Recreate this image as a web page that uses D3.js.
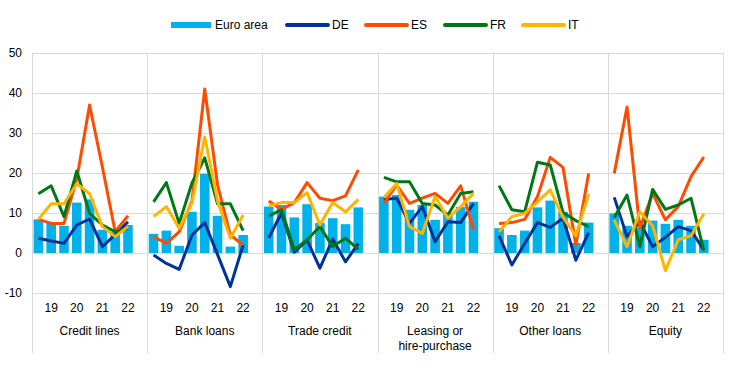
<!DOCTYPE html>
<html>
<head>
<meta charset="utf-8">
<script src="https://cdn.jsdelivr.net/npm/d3@7"></script>
<style>
  body { margin: 0; background: #fff; }
  svg text { font-family: Arial, "Liberation Sans", sans-serif; font-size: 12px; fill: #000; }
</style>
</head>
<body>
<svg id="chart"></svg>
<script>
// survey rounds per instrument, year ticks on every second round
const periods = ["18H2", "19H1", "19H2", "20H1", "20H2", "21H1", "21H2", "22H1"];
const tickLabels = ["", "19", "", "20", "", "21", "", "22"];
const instruments = ["Credit lines", "Bank loans", "Trade credit", "Leasing or hire-purchase", "Other loans", "Equity"];
const instrumentLines = [["Credit lines"], ["Bank loans"], ["Trade credit"], ["Leasing or", "hire-purchase"], ["Other loans"], ["Equity"]];
const yTicks = [-10, 0, 10, 20, 30, 40, 50];

// one row per instrument
const euroArea = [
    [8.4, 7.7, 6.8, 12.6, 13.4, 5.8, 5.3, 7.0],
    [4.8, 5.6, 1.8, 10.3, 19.8, 9.3, 1.6, 4.5],
    [11.6, 12.0, 8.9, 12.2, 7.5, 8.7, 7.2, 11.4],
    [14.1, 14.5, 10.8, 12.0, 8.3, 10.0, 11.5, 12.8],
    [6.2, 4.5, 5.6, 11.4, 13.1, 10.3, 2.5, 7.6],
    [9.9, 6.8, 6.3, 8.1, 7.3, 8.3, 6.8, 3.3]
];
const de = [
    [3.7, 3.0, 2.4, 7.0, 8.5, 1.6, 4.6, 7.8],
    [-0.5, -2.6, -4.1, 4.5, 7.6, -0.4, -8.4, 2.0],
    [3.8, 10.0, 0.2, 3.2, -3.8, 3.5, -2.2, 2.4],
    [13.4, 13.7, 7.4, 11.6, 2.8, 7.8, 7.6, 12.4],
    [4.3, -3.0, 2.4, 7.6, 6.4, 8.7, -1.8, 5.1],
    [13.9, 4.1, 7.8, 1.6, 3.9, 6.6, 5.6, 0.8]
];
const es = [
    [8.4, 7.4, 7.4, 18.5, 37.0, 21.5, 5.3, 9.3],
    [4.1, 2.4, 5.3, 13.0, 41.0, 17.0, 4.5, 2.0],
    [13.0, 10.9, 12.6, 17.6, 13.7, 13.1, 14.3, 20.8],
    [12.4, 17.0, 12.4, 13.7, 14.9, 12.4, 16.8, 5.9],
    [7.4, 7.6, 8.4, 14.1, 23.9, 21.4, 2.0, 19.9],
    [19.9, 36.5, 6.2, 14.9, 8.3, 11.6, 19.1, 24.0]
];
const fr = [
    [14.8, 16.8, 9.1, 20.5, 9.9, 7.0, 5.3, 6.2],
    [12.8, 17.6, 7.4, 17.5, 23.8, 12.3, 12.3, 5.6],
    [9.3, 10.8, 0.8, 3.3, 6.6, 1.6, 3.7, 0.9],
    [18.9, 17.8, 17.8, 12.4, 12.0, 9.5, 14.9, 15.3],
    [16.8, 10.8, 10.3, 22.7, 22.0, 10.1, 8.1, 6.6],
    [8.9, 14.5, 1.6, 15.9, 10.9, 12.0, 13.7, 0.6]
];
const it = [
    [8.4, 12.3, 12.3, 17.3, 14.8, 6.6, 4.1, 6.6],
    [9.1, 11.6, 6.2, 12.5, 29.0, 13.0, 3.7, 9.5],
    [11.8, 12.6, 12.6, 15.1, 7.0, 12.6, 10.3, 13.4],
    [13.9, 17.4, 6.6, 4.9, 14.1, 8.7, 11.6, 14.9],
    [5.3, 9.1, 9.9, 12.8, 15.8, 8.9, 4.3, 14.8],
    [8.3, 1.6, 10.3, 6.8, -4.4, 3.3, 4.3, 9.8]
];

const lineSeries = [
    { name: "DE", values: de, color: "#003299" },
    { name: "ES", values: es, color: "#ff4b00" },
    { name: "FR", values: fr, color: "#007816" },
    { name: "IT", values: it, color: "#ffb400" }
];
const barColor = "#00b1ea";
const gridColor = "#d9d9d9";

const width = 744, height = 375;
const margin = { top: 53, right: 21, bottom: 82, left: 32 };

const svg = d3.select("#chart")
    .attr("width", width)
    .attr("height", height);

const x0 = d3.scaleBand()
    .domain(instruments)
    .range([margin.left, width - margin.right]);
const pw = x0.bandwidth();

// eight rounds fill 8/9 of a panel, the last slot stays empty
const x1 = d3.scaleBand()
    .domain(periods)
    .range([0, pw * 8 / 9])
    .paddingInner(0.25)
    .paddingOuter(0.125);

const y = d3.scaleLinear()
    .domain([-10, 50])
    .range([height - margin.bottom, margin.top]);

// horizontal grid
svg.append("g")
    .selectAll("line")
    .data(yTicks)
    .join("line")
    .attr("x1", margin.left)
    .attr("x2", width - margin.right)
    .attr("y1", d => Math.round(y(d)) + 0.5)
    .attr("y2", d => Math.round(y(d)) + 0.5)
    .attr("stroke", gridColor);

// panel separators
const seps = instruments.map(d => x0(d)).concat([width - margin.right]);
svg.append("g")
    .selectAll("line")
    .data(seps)
    .join("line")
    .attr("x1", d => Math.round(d) + 0.5)
    .attr("x2", d => Math.round(d) + 0.5)
    .attr("y1", margin.top)
    .attr("y2", 353)
    .attr("stroke", gridColor);

// y labels
svg.append("g")
    .selectAll("text")
    .data(yTicks)
    .join("text")
    .attr("x", 22)
    .attr("y", d => y(d))
    .attr("dy", "0.35em")
    .attr("text-anchor", "end")
    .text(d => d);

const line = d3.line()
    .x((d, i) => x1(periods[i]) + x1.bandwidth() / 2)
    .y(d => y(d));

instruments.forEach((inst, k) => {
    const g = svg.append("g")
        .attr("transform", "translate(" + x0(inst) + ",0)");

    g.selectAll("rect")
        .data(euroArea[k])
        .join("rect")
        .attr("x", (d, i) => x1(periods[i]))
        .attr("width", x1.bandwidth())
        .attr("y", d => y(Math.max(0, d)))
        .attr("height", d => Math.abs(y(d) - y(0)))
        .attr("fill", barColor);

    lineSeries.forEach(s => {
        g.append("path")
            .datum(s.values[k])
            .attr("fill", "none")
            .attr("stroke", s.color)
            .attr("stroke-width", 3)
            .attr("stroke-linejoin", "round")
            .attr("d", line);
    });

    g.selectAll(".tick")
        .data(tickLabels)
        .join("text")
        .attr("class", "tick")
        .attr("x", (d, i) => x1(periods[i]) + x1.bandwidth() / 2)
        .attr("y", 308)
        .attr("dy", "0.35em")
        .attr("text-anchor", "middle")
        .text(d => d);

    g.append("text")
        .attr("x", pw / 2)
        .attr("y", 331)
        .attr("text-anchor", "middle")
        .selectAll("tspan")
        .data(instrumentLines[k])
        .join("tspan")
        .attr("x", pw / 2)
        .attr("dy", (d, i) => i === 0 ? "0.35em" : "15")
        .text(d => d);
});

// legend
const legend = svg.append("g");
const legendItems = [{ name: "Euro area", color: barColor, bar: true }]
    .concat(lineSeries.map(s => ({ name: s.name, color: s.color, bar: false })));
const legendX = [171, 286, 365, 444, 522];
legendItems.forEach((d, i) => {
    const lg = legend.append("g").attr("transform", "translate(" + legendX[i] + ",25)");
    if (d.bar) {
        lg.append("rect").attr("x", 0).attr("y", -3).attr("width", 40).attr("height", 6).attr("fill", d.color);
        lg.append("text").attr("x", 44).attr("dy", "0.35em").text(d.name);
    } else {
        lg.append("line").attr("x1", 1).attr("x2", 42).attr("stroke", d.color)
            .attr("stroke-width", 4).attr("stroke-linecap", "round");
        lg.append("text").attr("x", 46).attr("dy", "0.35em").text(d.name);
    }
});
</script>
</body>
</html>
